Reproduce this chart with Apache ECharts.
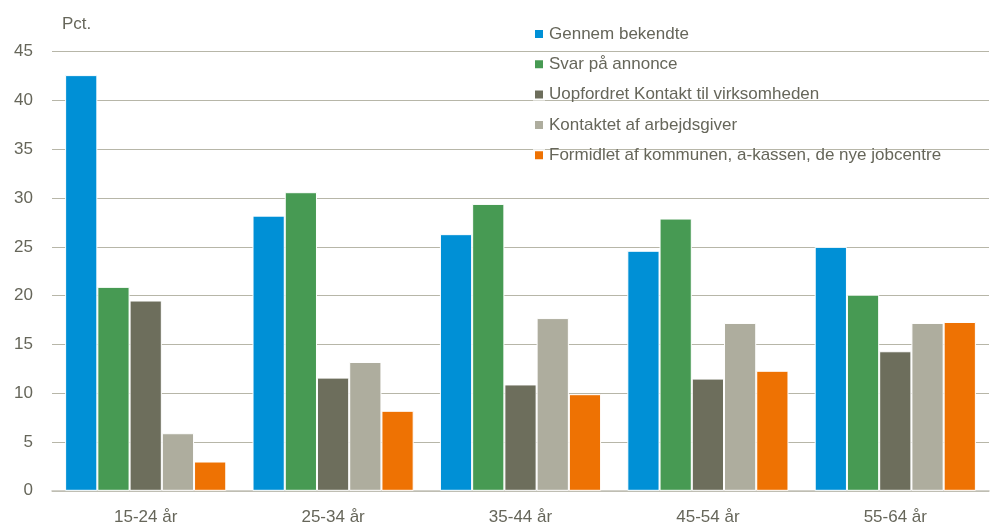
<!DOCTYPE html>
<html>
<head>
<meta charset="utf-8">
<script src="https://cdn.jsdelivr.net/npm/echarts@6/dist/echarts.min.js"></script>
<style>
html,body{margin:0;padding:0;background:#fff;}
#chart{width:991px;height:527px;}
</style>
</head>
<body>
<div id="chart"></div>
<script>
const categories = ['15-24 år', '25-34 år', '35-44 år', '45-54 år', '55-64 år'];
const seriesNames = [
  'Gennem bekendte',
  'Svar på annonce',
  'Uopfordret Kontakt til virksomheden',
  'Kontaktet af arbejdsgiver',
  'Formidlet af kommunen, a-kassen, de nye jobcentre'
];
const gennemBekendte = [42.6, 28.2, 26.3, 24.6, 25.0];
const svarPaaAnnonce = [20.9, 30.6, 29.4, 27.9, 20.1];
const uopfordretKontakt = [19.5, 11.6, 10.9, 11.5, 14.3];
const kontaktetAfArbejdsgiver = [5.9, 13.2, 17.7, 17.2, 17.2];
const formidletAfKommunen = [3.0, 8.2, 9.9, 12.3, 17.3];
const yTicks = [0, 5, 10, 15, 20, 25, 30, 35, 40, 45];

const colors = ['#0090D6', '#479A53', '#6D6E5C', '#AEAD9E', '#EE7203'];
const seriesData = [gennemBekendte, svarPaaAnnonce, uopfordretKontakt, kontaktetAfArbejdsgiver, formidletAfKommunen];
const textColor = '#66665A';
const fontFamily = '"Liberation Sans", Arial, sans-serif';

const chart = echarts.init(document.getElementById('chart'));
chart.setOption({
  animation: false,
  color: colors,
  textStyle: { fontFamily: fontFamily },
  title: {
    text: 'Pct.',
    left: 62,
    top: 16,
    padding: 0,
    textStyle: { fontSize: 17, fontWeight: 'normal', color: textColor, fontFamily: fontFamily }
  },
  legend: {
    orient: 'vertical',
    left: 533,
    top: 24,
    padding: 0,
    itemWidth: 10,
    itemHeight: 10,
    itemGap: 10.3,
    icon: 'rect',
    data: seriesNames,
    textStyle: { fontSize: 17, color: textColor, lineHeight: 20, fontFamily: fontFamily }
  },
  grid: { left: 52, right: 2, top: 51.7, bottom: 36.2, containLabel: false },
  xAxis: {
    type: 'category',
    data: categories,
    axisLine: { show: true, lineStyle: { color: '#C2C1B6', width: 1.5 } },
    axisTick: { show: false },
    axisLabel: { fontSize: 17, color: textColor, margin: 18, fontFamily: fontFamily }
  },
  yAxis: {
    type: 'value',
    min: yTicks[0],
    max: yTicks[yTicks.length - 1],
    interval: yTicks[1] - yTicks[0],
    axisLine: { show: false },
    axisTick: { show: false },
    axisLabel: { fontSize: 17, color: textColor, margin: 19, fontFamily: fontFamily },
    splitLine: { lineStyle: { color: '#B7B6A8', width: 1.2 } }
  },
  series: seriesNames.map((name, i) => ({
    name: name,
    type: 'bar',
    data: seriesData[i],
    barGap: '0%',
    barCategoryGap: '14%',
    itemStyle: { color: colors[i], borderColor: '#ffffff', borderWidth: 1 }
  }))
});
</script>
</body>
</html>
